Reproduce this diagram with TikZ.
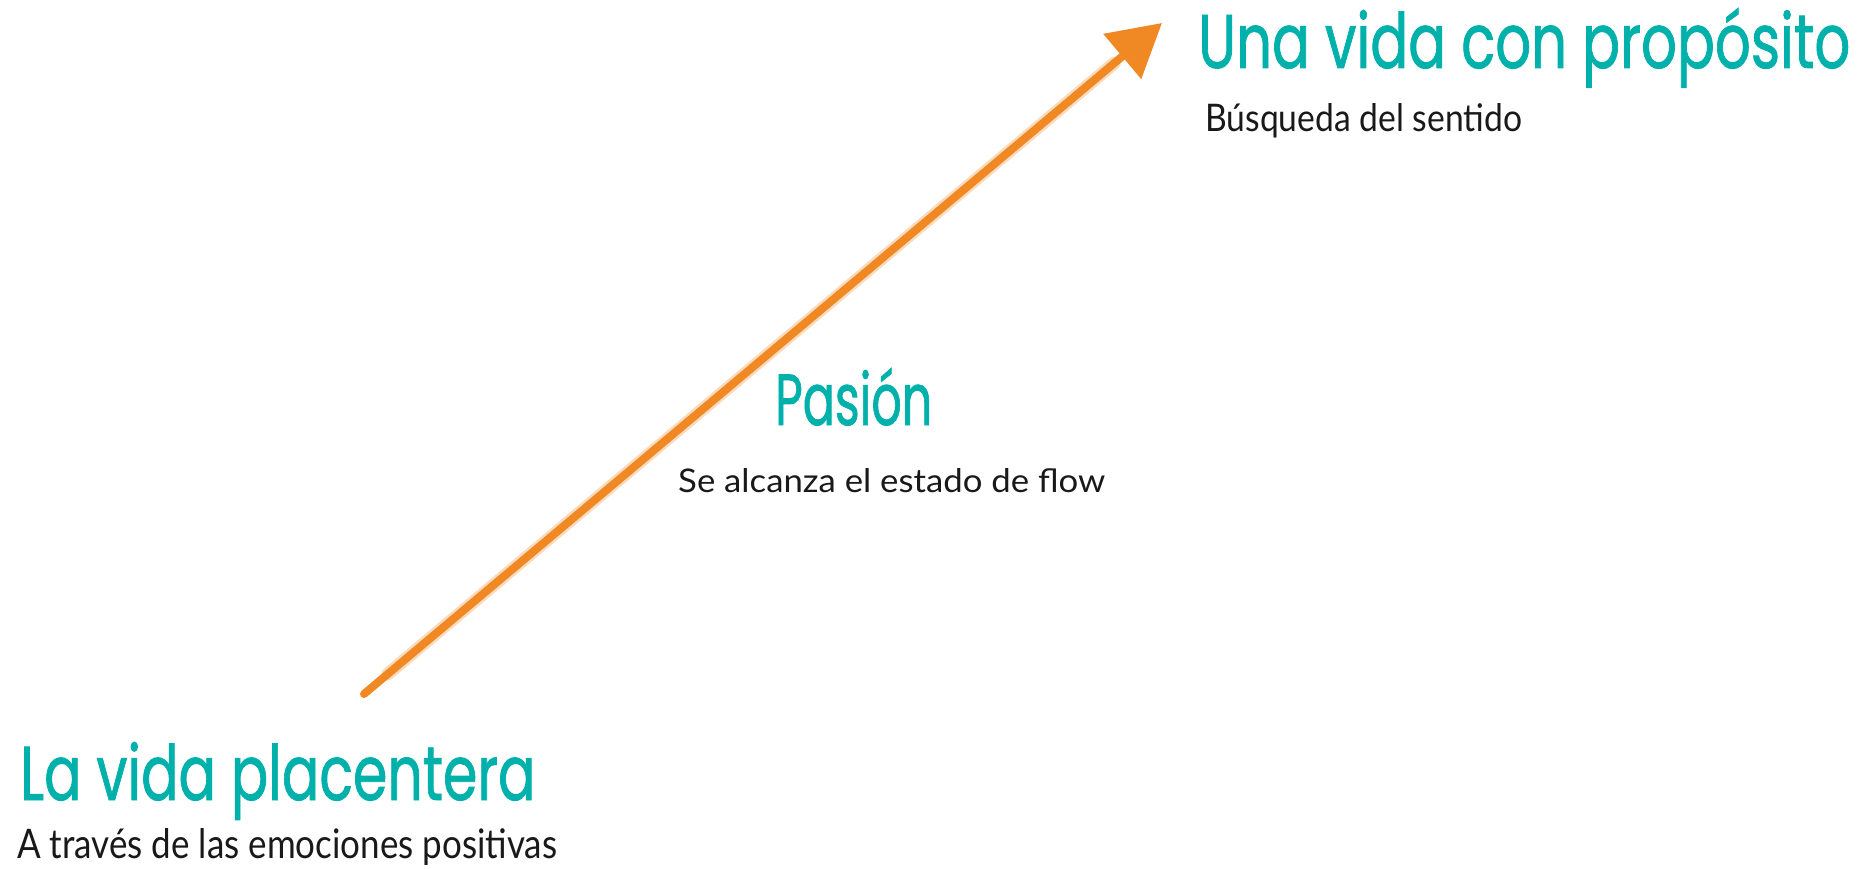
\documentclass[tikz,border=0pt]{standalone}
\usepackage{fontspec}
\setmainfont{Lato}
\newfontfamily\handfont[FakeBold=1.2]{Poppins}
\usetikzlibrary{arrows.meta,calc}
\definecolor{tealc}{RGB}{0,176,170}
\definecolor{crayon}{RGB}{240,136,36}
\tikzset{
  title/.style={anchor=base west, inner sep=0pt, text=tealc, font=\handfont},
  body/.style={anchor=base west, inner sep=0pt, text=black!90},
  shaft/.style={draw=crayon, line width=8pt, line cap=round,
     -{Triangle[length=52pt,width=57pt]}},
  shaftglow/.style={draw=crayon, line width=13pt, line cap=round, opacity=0.3}
}
\begin{document}
\begin{tikzpicture}[x=1pt,y=-1pt]
\useasboundingbox (0,0) rectangle (1874,869);
\coordinate (tail) at (364,694);
\coordinate (tip) at (1162,23);
\draw[shaftglow] ($(tail)!0.03!(tip)$) -- ($(tail)!0.94!(tip)$);
\draw[shaft] (tail) -- (tip);

\node[title] (t1) at (1198,68) {\resizebox{652pt}{60pt}{Una vida con propósito}};
\node[body] (s1) at (1205,132) {\resizebox{317pt}{28pt}{Búsqueda del sentido}};

\node[title] (t2) at (775,425) {\resizebox{157pt}{57pt}{Pasión}};
\node[body] (s2) at (678,492) {\resizebox{427pt}{24pt}{Se alcanza el estado de flow}};

\node[title] (t3) at (20,800) {\resizebox{515pt}{58pt}{La vida placentera}};
\node[body] (s3) at (17,858) {\resizebox{540pt}{30pt}{A través de las emociones positivas}};
\end{tikzpicture}
\end{document}
